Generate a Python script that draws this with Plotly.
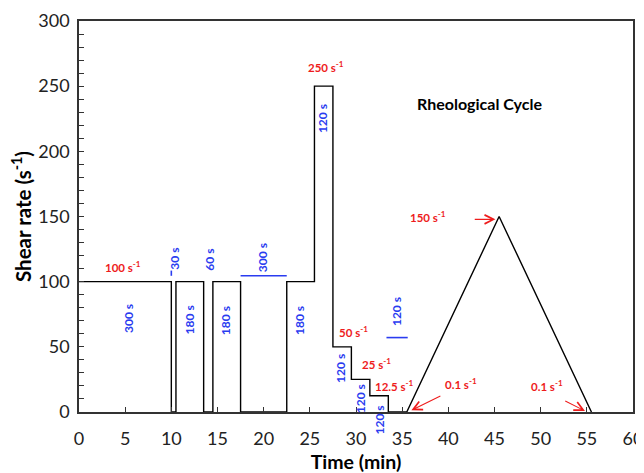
import plotly.graph_objects as go

# ---- data ----
time_min = [0, 10, 10, 10.5, 10.5, 13.5, 13.5, 14.5, 14.5, 17.5, 17.5, 22.5, 22.5,
            25.5, 25.5, 27.5, 27.5, 29.5, 29.5, 31.5, 31.5, 33.5, 33.5, 35.5, 45.5, 55.5]
shear_rate = [100, 100, 0, 0, 100, 100, 0, 0, 100, 100, 0, 0, 100,
              100, 250, 250, 50, 50, 25, 25, 12.5, 12.5, 0, 0, 150, 0]

rate_labels = ["100 s<sup>-1</sup>", "250 s<sup>-1</sup>", "50 s<sup>-1</sup>", "25 s<sup>-1</sup>",
               "12.5 s<sup>-1</sup>", "150 s<sup>-1</sup>", "0.1 s<sup>-1</sup>", "0.1 s<sup>-1</sup>"]
rate_x = [4.8, 26.7, 29.75, 32.2, 34.2, 37.8, 41.4, 50.7]
rate_y = [112, 265, 61.5, 37.2, 20.5, 150.3, 21.8, 20.5]

dur_labels = ["300 s", "30 s", "60 s", "300 s", "180 s", "180 s", "180 s",
              "120 s", "120 s", "120 s", "120 s", "120 s"]
dur_x = [5.35, 10.34, 14.1, 19.9, 11.93, 15.8, 23.8, 26.4, 34.46, 28.3, 30.5, 32.5]
dur_y = [71.7, 118, 117, 118.6, 70.4, 70.4, 70.4, 225.3, 76.8, 33.3, 10.3, -6.4]

bar_x0 = [17.5, 33.3, 10.0]
bar_x1 = [22.5, 35.6, 10.0]
bar_y0 = [104.5, 57.1, 104.5]
bar_y1 = [104.5, 57.1, 108.5]

arrow_tail_x = [42.7, 39.3, 52.5]
arrow_tail_y = [147.8, 12.8, 9.0]
arrow_head_x = [45.1, 36.0, 54.8]
arrow_head_y = [147.8, 1.3, 0.8]

x_ticks = list(range(0, 61, 5))
y_ticks = list(range(0, 301, 50))

FONT = "Lato"
RED = "#ee1c1c"
BLUE = "#2a3cf0"

W, H = 636, 465
M = dict(l=71, r=11, t=13, b=61)
Y_RANGE = [0, 300]
px_per_unit = (H - M["t"] - M["b"]) / (Y_RANGE[1] - Y_RANGE[0])

fig = go.Figure()
fig.add_trace(go.Scatter(x=time_min, y=shear_rate, mode="lines",
                         line=dict(color="black", width=1.4),
                         showlegend=False, hoverinfo="skip", cliponaxis=False))

bx, by = [], []
for a, b, c, d in zip(bar_x0, bar_x1, bar_y0, bar_y1):
    bx += [a, b, None]
    by += [c, d, None]
fig.add_trace(go.Scatter(x=bx, y=by, mode="lines", line=dict(color=BLUE, width=1.6),
                         showlegend=False, hoverinfo="skip"))

for t, x, y in zip(rate_labels, rate_x, rate_y):
    fig.add_annotation(x=x, y=y, text=t, showarrow=False,
                       font=dict(family=FONT, size=11.5, color=RED, weight="bold"))

for t, x, y in zip(dur_labels, dur_x, dur_y):
    # annotations outside the axis range are hidden, so anchor at the edge and shift
    y_in = max(y, Y_RANGE[0])
    shift = (y - y_in) * px_per_unit
    fig.add_annotation(x=x, y=y_in, yshift=shift, text=t, showarrow=False, textangle=-90,
                       font=dict(family=FONT, size=12, color=BLUE, weight="bold"))

for tx, ty, hx, hy in zip(arrow_tail_x, arrow_tail_y, arrow_head_x, arrow_head_y):
    fig.add_annotation(x=hx, y=hy, ax=tx, ay=ty, xref="x", yref="y", axref="x", ayref="y",
                       text="", showarrow=True, arrowhead=5, arrowsize=1.6,
                       arrowwidth=1.1, arrowcolor=RED)

fig.add_annotation(x=43.4, y=237, text="Rheological Cycle", showarrow=False,
                   font=dict(family=FONT, size=16, color="black", weight="bold"))

# the page body has an 8px margin, so the figure is sized to fit the window
fig.update_layout(
    width=W, height=H,
    margin=M,
    paper_bgcolor="white", plot_bgcolor="white",
    font=dict(family=FONT, size=18, color="#222"),
)
fig.update_xaxes(range=[0, 60], tickvals=x_ticks, ticks="inside", ticklen=5,
                 tickcolor="#333", showline=True, linecolor="#333", linewidth=1.5,
                 mirror=True, showgrid=False, zeroline=False, ticklabelstandoff=10,
                 automargin=False,
                 title=dict(text="<b>Time (min)</b>", font=dict(family=FONT, size=19.5, color="black"),
                            standoff=8))
fig.update_yaxes(range=Y_RANGE, tickvals=y_ticks, ticks="inside", ticklen=5,
                 tickcolor="#333", showline=True, linecolor="#333", linewidth=1.5,
                 mirror=True, showgrid=False, zeroline=False, ticklabelstandoff=4,
                 automargin=False,
                 minor=dict(dtick=10, ticks="inside", ticklen=5, tickcolor="#333"),
                 title=dict(text="<b>Shear rate (s<sup>-1</sup>)</b>",
                            font=dict(family=FONT, size=20.5, color="black"), standoff=8))

fig.write_html("out.html")
